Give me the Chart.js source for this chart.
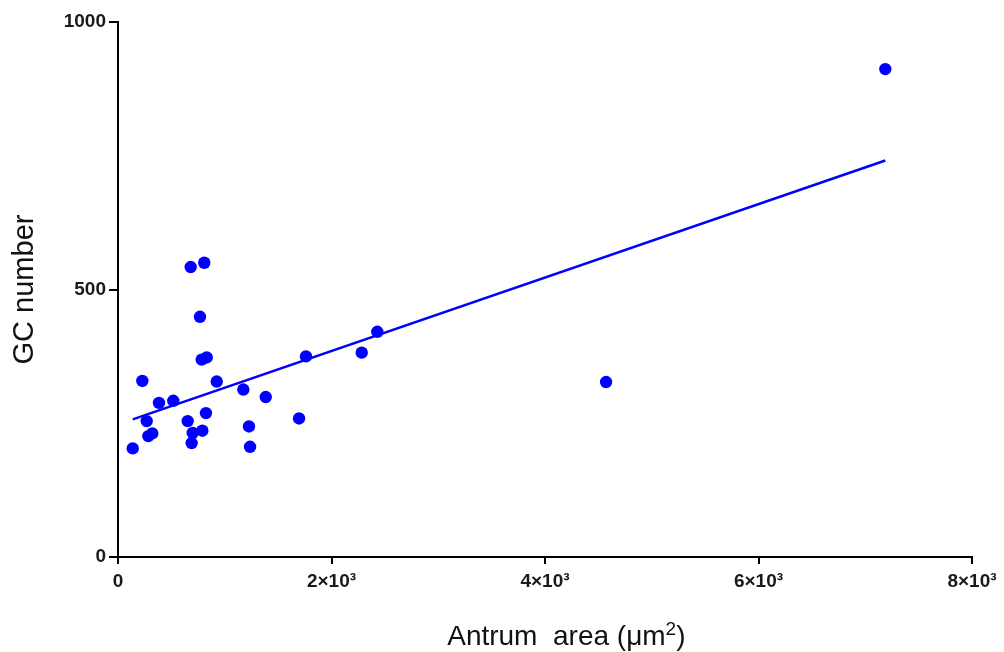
<!DOCTYPE html>
<html>
<head>
<meta charset="utf-8">
<title>GC number vs antrum area</title>
<script src="https://cdn.jsdelivr.net/npm/chart.js@4/dist/chart.umd.min.js"></script>
<style>
  html, body { margin: 0; padding: 0; background: #ffffff; }
  #wrap { width: 1004px; height: 652px; }
</style>
</head>
<body>
<div id="wrap"><canvas id="chart" width="1004" height="652"></canvas></div>
<script>
// Antrum area (µm²) of each follicle and its granulosa cell count
const antrumArea = [681, 808, 768, 784, 831, 228, 925, 1174, 1384, 1696,
                    384, 518, 269, 653, 824, 284, 321, 700, 790, 690,
                    1227, 1237, 138, 1761, 2283, 2429, 4572, 7188];
const gcNumber   = [542, 550, 449, 369, 373, 329, 328, 313, 299, 259,
                    288, 292, 254, 254, 269, 226, 231, 232, 236, 213,
                    244, 206, 203, 375, 382, 421, 327, 912];

// Axis ticks
const xTickValues = [0, 2000, 4000, 6000, 8000];
const xTickLabels = ['0', '2\u00d710\u00b3', '4\u00d710\u00b3', '6\u00d710\u00b3', '8\u00d710\u00b3'];
const yTickValues = [0, 500, 1000];
const yTickLabels = ['0', '500', '1000'];

// Least-squares regression line over the measured range
function linearFit(xs, ys) {
  const n = xs.length;
  const mx = xs.reduce((a, b) => a + b, 0) / n;
  const my = ys.reduce((a, b) => a + b, 0) / n;
  let sxy = 0, sxx = 0;
  for (let i = 0; i < n; i++) {
    sxy += (xs[i] - mx) * (ys[i] - my);
    sxx += (xs[i] - mx) * (xs[i] - mx);
  }
  const slope = sxy / sxx;
  return { slope, intercept: my - slope * mx };
}
const fit = linearFit(antrumArea, gcNumber);
const xMin = Math.min(...antrumArea);
const xMax = Math.max(...antrumArea);
const fitLine = [xMin, xMax].map(x => ({ x, y: fit.intercept + fit.slope * x }));

const points = antrumArea.map((x, i) => ({ x, y: gcNumber[i] }));

const FONT = '"Liberation Sans", Arial, Helvetica, sans-serif';
const BLUE = '#0000ff';

// X-axis title with a raised "2" in the unit, placed under the axis
const xTitlePlugin = {
  id: 'xTitle',
  afterDraw(chart) {
    const ctx = chart.ctx;
    const main = 'Antrum  area (\u03bcm';
    const sup = '2';
    const tail = ')';
    ctx.save();
    ctx.fillStyle = '#111111';
    ctx.textBaseline = 'alphabetic';
    ctx.textAlign = 'left';
    const mainFont = 'normal 28px ' + FONT;
    const supFont = 'normal 19px ' + FONT;
    ctx.font = mainFont;
    const wMain = ctx.measureText(main).width;
    const wTail = ctx.measureText(tail).width;
    ctx.font = supFont;
    const wSup = ctx.measureText(sup).width;
    const total = wMain + wSup + wTail;
    const cx = chart.scales.x.getPixelForValue(4200);
    const baseY = 645;
    let x = cx - total / 2;
    ctx.font = mainFont;
    ctx.fillText(main, x, baseY);
    x += wMain;
    ctx.font = supFont;
    ctx.fillText(sup, x, baseY - 10);
    x += wSup;
    ctx.font = mainFont;
    ctx.fillText(tail, x, baseY);
    ctx.restore();
  }
};

new Chart(document.getElementById('chart'), {
  type: 'scatter',
  data: {
    datasets: [
      {
        label: 'Follicles',
        data: points,
        backgroundColor: BLUE,
        borderColor: BLUE,
        borderWidth: 0,
        pointRadius: 6.2,
        pointHoverRadius: 6.2
      },
      {
        label: 'Linear fit',
        type: 'line',
        data: fitLine,
        borderColor: BLUE,
        borderWidth: 2.5,
        pointRadius: 0,
        fill: false,
        tension: 0
      }
    ]
  },
  plugins: [xTitlePlugin],
  options: {
    responsive: false,
    animation: false,
    layout: { padding: { left: 0, top: 22, right: 32, bottom: 0 } },
    plugins: {
      legend: { display: false },
      tooltip: { enabled: false }
    },
    scales: {
      x: {
        type: 'linear',
        min: 0,
        max: 8000,
        afterBuildTicks: (scale) => { scale.ticks = xTickValues.map(v => ({ value: v })); },
        afterFit: (scale) => { scale.height = 95; },
        ticks: {
          autoSkip: false,
          maxRotation: 0,
          padding: 6,
          color: '#1a1a1a',
          font: { family: FONT, size: 19, weight: 'bold' },
          callback: (v) => xTickLabels[xTickValues.indexOf(v)]
        },
        grid: {
          display: true,
          drawOnChartArea: false,
          drawTicks: true,
          tickLength: 7,
          color: '#000000',
          lineWidth: 2
        },
        border: { display: true, color: '#000000', width: 2 },
        title: { display: false }
      },
      y: {
        type: 'linear',
        min: 0,
        max: 1000,
        afterBuildTicks: (scale) => { scale.ticks = yTickValues.map(v => ({ value: v })); },
        afterFit: (scale) => { scale.width = 118; },
        ticks: {
          padding: 3,
          color: '#1a1a1a',
          font: { family: FONT, size: 19, weight: 'bold' },
          callback: (v) => yTickLabels[yTickValues.indexOf(v)]
        },
        grid: {
          display: true,
          drawOnChartArea: false,
          drawTicks: true,
          tickLength: 9,
          color: '#000000',
          lineWidth: 2
        },
        border: { display: true, color: '#000000', width: 2 },
        title: {
          display: true,
          text: 'GC number',
          color: '#111111',
          font: { family: FONT, size: 29, weight: 'normal' },
          padding: { top: 8, bottom: 0 }
        }
      }
    }
  }
});
</script>
</body>
</html>
